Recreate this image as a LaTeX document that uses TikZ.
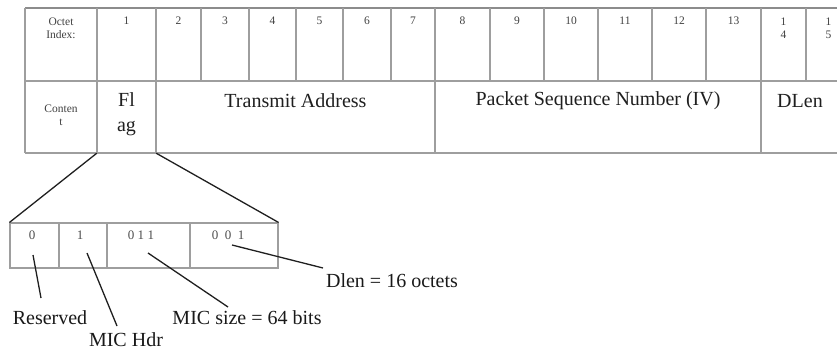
\documentclass[tikz,border=0pt]{standalone}
\usepackage{fontspec}
\setmainfont{Liberation Serif}
\begin{document}
\begin{tikzpicture}[x=1pt,y=-1pt,
  grid/.style={draw=black!38, line width=1.1pt},
  topedge/.style={draw=black!45, line width=2pt},
  small/.style={font=\fontsize{11.5}{13}\selectfont, text=black!75, align=center, inner sep=0pt},
  big/.style={font=\fontsize{20}{25}\selectfont, text=black!88, align=center, inner sep=0pt},
  bitdigit/.style={font=\fontsize{13}{15}\selectfont, text=black!70, inner sep=0pt},
  callout/.style={font=\fontsize{20}{24}\selectfont, text=black!90, inner sep=0pt},
  lead/.style={draw=black!88, line width=1.3pt},
  cellbox/.style={draw=none, inner sep=0pt, rectangle},
  ]
\useasboundingbox (0,0) rectangle (837,353);

% ---------- octet table ----------
\draw[topedge] (25,8) -- (837,8);
\draw[grid] (25,81) -- (837,81);
\draw[grid] (25,153) -- (837,153);
\draw[grid, line width=1.6pt] (25,8) -- (25,153);
\foreach \x in {97,156,435,761} \draw[grid] (\x,8) -- (\x,153);
\foreach \x in {201,249,296,343,391,490,544,598,652,706,806} \draw[grid] (\x,8) -- (\x,81);

% row headers
\node[small] (hidx) at (61,28) {Octet\\Index:};
\node[small] (hcnt) at (61,115) {Conten\\t};

% octet numbers
\node[small] (n1)  at (126.5,21) {1};
\node[small] (n2)  at (178.5,21) {2};
\node[small] (n3)  at (225,21) {3};
\node[small] (n4)  at (272.5,21) {4};
\node[small] (n5)  at (319.5,21) {5};
\node[small] (n6)  at (367,21) {6};
\node[small] (n7)  at (413,21) {7};
\node[small] (n8)  at (462.5,21) {8};
\node[small] (n9)  at (517,21) {9};
\node[small] (n10) at (571,21) {10};
\node[small] (n11) at (625,21) {11};
\node[small] (n12) at (679,21) {12};
\node[small] (n13) at (733.5,21) {13};
\node[small] (n14) at (783.5,28) {1\\4};
\node[small] (n15) at (828.5,28) {1\\5};

% content row
\node[cellbox, minimum width=59pt, minimum height=72pt] (flagcell) at (126.5,117) {};
\node[big] (flag) at (126.5,114) {Fl\\ag};
\node[big] (ta)   at (295.5,101) {Transmit Address};
\node[big] (psn)  at (598,101) {Packet Sequence Number (IV)};
\node[big] (dlen) at (800,101) {DLen};

% ---------- flag bit breakdown ----------
\node[draw=black!38, line width=1.1pt, minimum width=268pt, minimum height=45pt,
      inner sep=0pt] (bits) at (144,245.5) {};
\foreach \x in {59,107,190} \draw[grid] (\x,223) -- (\x,268);

\draw[lead] (flagcell.south west) -- (bits.north west);
\draw[lead] (flagcell.south east) -- (bits.north east);

\node[bitdigit] (b0) at (32,235) {0};
\node[bitdigit] (b1) at (80,235) {1};
\node[bitdigit] (b2) at (141,235) {0\hspace{3.5pt}1\hspace{3.5pt}1};
\node[bitdigit] (b3) at (228,235) {0\hspace{6.5pt}0\hspace{6.5pt}1};

% callout labels
\node[callout] (lres)  at (50,318) {Reserved};
\node[callout] (lhdr)  at (126,340) {MIC Hdr};
\node[callout] (lsize) at (247,318) {MIC size = 64 bits};
\node[callout] (llen)  at (392,281) {Dlen = 16 octets};

\coordinate (s0) at (33,255);
\coordinate (e0) at (41,298);
\coordinate (s1) at (87,253);
\coordinate (e1) at (117,326);
\coordinate (s2) at (148,253);
\coordinate (e2) at (228,307);
\coordinate (s3) at (232,245);
\coordinate (e3) at (323,268);

\draw[lead] (s0) -- (e0);
\draw[lead] (s1) -- (e1);
\draw[lead] (s2) -- (e2);
\draw[lead] (s3) -- (e3);
\end{tikzpicture}
\end{document}
